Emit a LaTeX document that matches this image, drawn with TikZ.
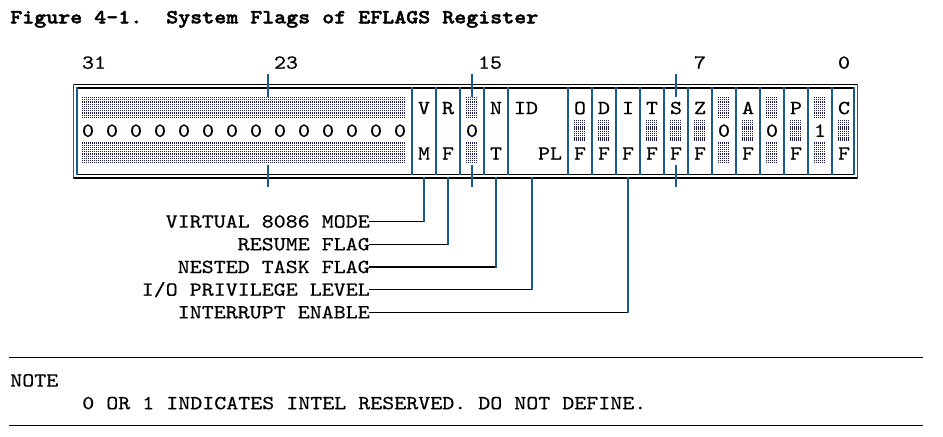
\documentclass[tikz,border=0pt]{standalone}
\usepackage{fontspec}
\newfontfamily\monof{lmmono10-regular}[Extension=.otf, FakeStretch=1.1429, FakeBold=0.4]
\newfontfamily\titlef{lmmonolt10-bold}[Extension=.otf, FakeStretch=1.1429, FakeBold=2]
\definecolor{vcol}{RGB}{22,92,140}
\definecolor{hcol}{RGB}{30,30,75}
\tikzset{
  txt/.style={inner sep=0pt, text height=9.2pt, text depth=0pt,
    font=\monof\fontsize{15}{18}\selectfont\frenchspacing},
  ttl/.style={txt, font=\titlef\fontsize{15}{18}\selectfont\frenchspacing},
  hl/.style={line width=0.9pt, black, line cap=rect},
  vl/.style={line width=0.9pt, vcol, line cap=rect},
  hatchl/.style={line width=0.95pt, hcol, dash pattern=on 1pt off 0.5pt},
}
\newcommand\hatchband[3]{%
  \foreach \k in {0,...,9}{\draw[hatchl] (#1,{#3-10.4+2.2*\k}) -- (#2,{#3-10.4+2.2*\k});}}
\begin{document}
\begin{tikzpicture}[x=0.75pt,y=-0.75pt]
\fill[white] (0,0) rectangle (943,436);
\useasboundingbox (0,0) rectangle (943,436);

% title
\node[ttl, anchor=west] (title) at (10,17.2) {Figure 4-1.\ \ System Flags of EFLAGS Register};

% bit numbers
\node[txt] (b31) at (94,62.6) {31};
\node[txt] (b23) at (286,62.6) {23};
\node[txt] (b15) at (490,62.6) {15};
\node[txt] (b7) at (700,62.6) {7};
\node[txt] (b0) at (844,62.6) {0};

% hatching
\hatchband{82}{406}{108}
\hatchband{82}{406}{153.4}
\foreach \xa in {466,718,766,814}{
  \hatchband{\xa}{\xa+12}{108}
  \hatchband{\xa}{\xa+12}{153.4}
}
\foreach \xa in {574,598,646,670,694,742,790,838}{
  \hatchband{\xa}{\xa+12}{130.7}
}

% register box (double border)
\draw[hl] (73.5,84.5) -- (857.5,84.5);
\draw[hl] (77,88) -- (854,88);
\draw[hl] (77,174.5) -- (854,174.5);
\draw[hl] (73.5,178) -- (857.5,178);
\draw[vl] (73.5,84.5) -- (73.5,178);
\draw[vl] (77,88) -- (77,174.5);
\draw[vl] (854,88) -- (854,174.5);
\draw[vl] (857.5,84.5) -- (857.5,178);

% dividers
\foreach \c in {33,35,37,39,41,46,48,50,52,54,56,58,60,62,64,66,68}{
  \draw[vl] ({16+12*\c},88) -- ({16+12*\c},174.5);
}

% ticks
\foreach \xa in {268,472,676}{
  \draw[vl, line cap=butt] (\xa,74) -- (\xa,96.5);
  \draw[vl, line cap=butt] (\xa,164.7) -- (\xa,187.4);
}

% reserved zeros
\foreach \i in {0,...,13}{
  \node[txt] (z\i) at ({88+24*\i},130.7) {0};
}
\node[txt] (r15) at (472,130.7) {0};
\node[txt] (r5) at (724,130.7) {0};
\node[txt] (r3) at (772,130.7) {0};
\node[txt] (r1) at (820,130.7) {1};

% upper letters
\node[txt] (vmU) at (424,108) {V};
\node[txt] (rfU) at (448,108) {R};
\node[txt] (ntU) at (496,108) {N};
\node[txt] (ioU) at (526,108) {ID};
\node[txt] (ofU) at (580,108) {O};
\node[txt] (dfU) at (604,108) {D};
\node[txt] (ifU) at (628,108) {I};
\node[txt] (tfU) at (652,108) {T};
\node[txt] (sfU) at (676,108) {S};
\node[txt] (zfU) at (700,108) {Z};
\node[txt] (afU) at (748,108) {A};
\node[txt] (pfU) at (796,108) {P};
\node[txt] (cfU) at (844,108) {C};

% lower letters
\node[txt] (vmL) at (424,153.4) {M};
\node[txt] (rfL) at (448,153.4) {F};
\node[txt] (ntL) at (496,153.4) {T};
\node[txt] (ioL) at (550,153.4) {PL};
\foreach \xa/\nm in {580/of,604/df,628/if,652/tf,676/sf,700/zf,748/af,796/pf,844/cf}{
  \node[txt] (\nm L) at (\xa,153.4) {F};
}

% connector anchors at the box bottom
\coordinate (vmB) at (424,178);
\coordinate (rfB) at (448,178);
\coordinate (ntB) at (496,178);
\coordinate (ioB) at (532,178);
\coordinate (ifB) at (628,178);

% labels
\node[txt, anchor=east] (lvm) at (370,221.5) {VIRTUAL 8086 MODE};
\node[txt, anchor=east] (lrf) at (370,244.2) {RESUME FLAG};
\node[txt, anchor=east] (lnt) at (370,266.9) {NESTED TASK FLAG};
\node[txt, anchor=east] (lio) at (370,289.6) {I/O PRIVILEGE LEVEL};
\node[txt, anchor=east] (lif) at (370,312.3) {INTERRUPT ENABLE};

% connectors
\foreach \l/\b in {lvm/vmB,lrf/rfB,lnt/ntB,lio/ioB,lif/ifB}{
  \draw[hl] (\l.east) -- (\l.east -| \b);
  \draw[vl] (\b) -- (\l.east -| \b);
}

% note
\draw[hl] (10,357.2) -- (922,357.2);
\node[txt, anchor=west] (note) at (10,380.4) {NOTE};
\node[txt, anchor=west] (notetext) at (82,403.1) {0 OR 1 INDICATES INTEL RESERVED. DO NOT DEFINE.};
\draw[hl] (10,425.5) -- (922,425.5);
\end{tikzpicture}
\end{document}
